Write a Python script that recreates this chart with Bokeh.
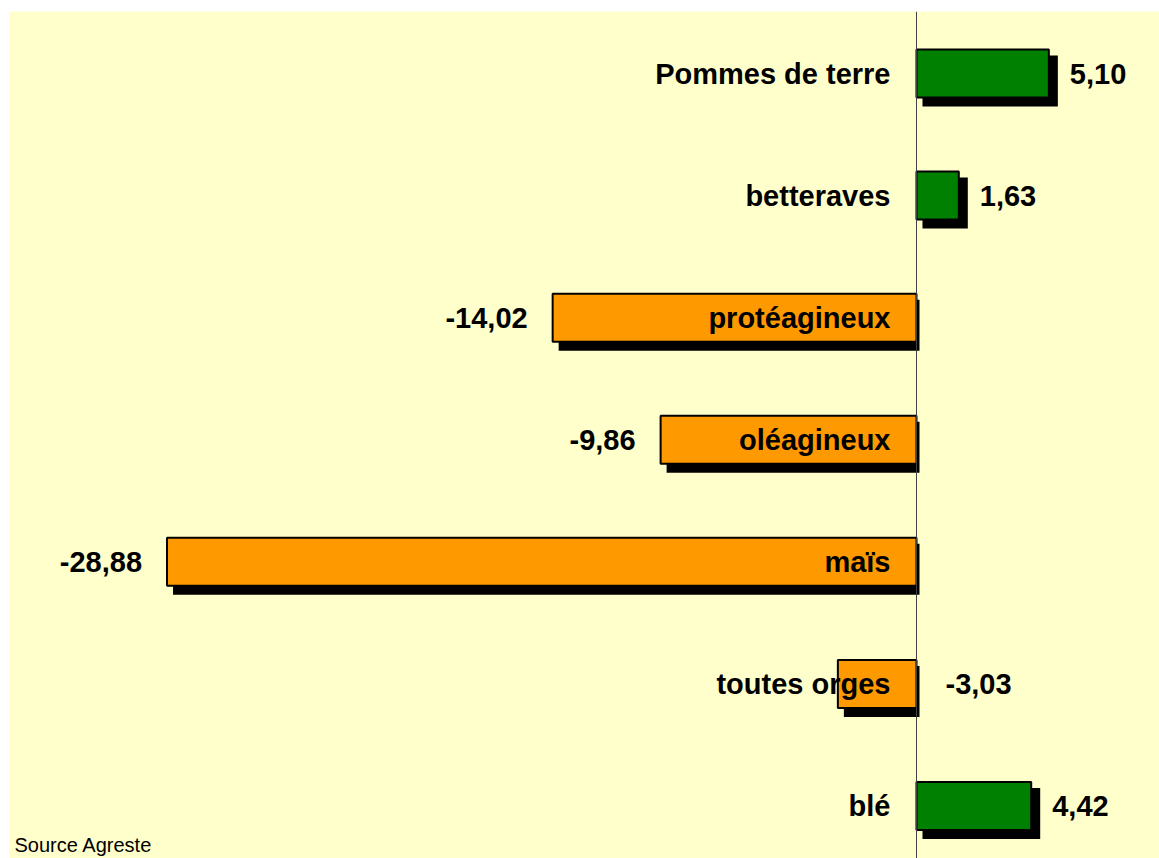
from bokeh.plotting import figure
from bokeh.models import Range1d, Span, Label, ColumnDataSource
from bokeh.core.properties import value
from bokeh.embed import file_html
from bokeh.resources import INLINE

categories = ["Pommes de terre", "betteraves", "protéagineux", "oléagineux",
              "maïs", "toutes orges", "blé"]
values = [5.10, 1.63, -14.02, -9.86, -28.88, -3.03, 4.42]

GREEN = "#008000"
ORANGE = "#FF9900"
BG = "#FFFFCC"
FONT = value("Liberation Sans")
FS = "29px"

W, H = 1159, 858
MB_L, MB_T, MB_R, MB_B = 9, 11, 0, 0
frame_w = W - MB_L - MB_R
frame_h = H - MB_T - MB_B

x0, x1 = -34.95, 9.364
y_bottom, y_top = 6.43, -0.508
sx = frame_w / (x1 - x0)          # px per x unit
sy = frame_h / (y_bottom - y_top)  # px per category step

p = figure(width=W, height=H, output_backend="svg", toolbar_location=None,
           x_range=Range1d(x0, x1), y_range=Range1d(y_bottom, y_top),
           x_axis_location=None, y_axis_location=None,
           min_border_left=MB_L, min_border_top=MB_T,
           min_border_right=MB_R, min_border_bottom=MB_B)
p.background_fill_color = BG
p.border_fill_color = "white"
p.outline_line_color = None
p.xgrid.visible = False
p.ygrid.visible = False

ys = list(range(len(categories)))
half = 0.393 / 2
left = [min(0, v) for v in values]
right = [max(0, v) for v in values]
top = [y - half for y in ys]
bottom = [y + half for y in ys]
colors = [GREEN if v > 0 else ORANGE for v in values]

# shadows (pixel offsets converted to data units)
sh = ColumnDataSource(dict(
    left=[l + 6 / sx for l in left],
    right=[r + (9 if v > 0 else 3) / sx for r, v in zip(right, values)],
    top=[t + 6 / sy for t in top],
    bottom=[b + 9 / sy for b in bottom],
))
p.quad(left="left", right="right", top="top", bottom="bottom", source=sh,
       fill_color="black", line_color=None)

p.add_layout(Span(location=0, dimension="height", line_color="#404040",
                  line_width=1))

bars = ColumnDataSource(dict(left=left, right=right, top=top, bottom=bottom,
                             color=colors))
p.quad(left="left", right="right", top="top", bottom="bottom", source=bars,
       fill_color="color", line_color="black", line_width=2)

# category labels
cat_src = ColumnDataSource(dict(x=[0] * len(categories), y=ys, text=categories))
p.text(x="x", y="y", text="text", source=cat_src, x_offset=-26,
       text_align="right", text_baseline="middle", text_font=FONT,
       text_font_style="bold", text_font_size=FS, text_color="black")

# value labels
def fmt(v):
    return f"{v:.2f}".replace(".", ",")

for y, v in zip(ys, values):
    if v > 0:
        x, off, align = v, 21, "left"
    elif v > -5:
        x, off, align = 0, 29, "left"
    else:
        x, off, align = v, -25, "right"
    p.text(x=[x], y=[y], text=[fmt(v)], x_offset=off, text_align=align,
           text_baseline="middle", text_font=FONT, text_font_style="bold",
           text_font_size=FS, text_color="black")

p.add_layout(Label(x=5, y=3, x_units="screen", y_units="screen",
                   text="Source Agreste", text_font="Liberation Sans",
                   text_font_size="20px", text_color="black",
                   text_baseline="bottom"))

open("out.html", "w").write(file_html(p, INLINE))
